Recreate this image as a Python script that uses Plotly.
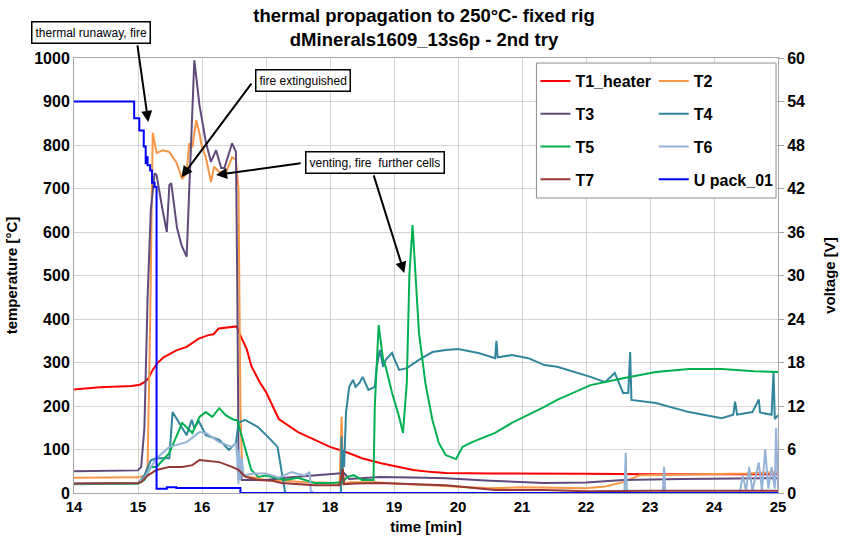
import plotly.graph_objects as go

# ---------------- data ----------------
t1_t = [14.0, 14.4, 14.9, 15.03, 15.1, 15.16, 15.23, 15.3, 15.4, 15.5, 15.6, 15.76, 15.85, 15.95, 16.1, 16.18,
        16.26, 16.4, 16.54, 16.6, 16.7, 16.77, 16.9, 17.0, 17.2, 17.5, 17.76, 18.0, 18.27, 18.5, 18.78, 19.0,
        19.3, 19.6, 19.81, 20.5, 21.4, 22.0, 23.0, 24.0, 25.0]
t1_v = [238, 243, 246, 249, 255, 263, 283, 298, 312, 320, 328, 336, 345, 355, 363, 365,
        378, 380, 383, 362, 330, 292, 255, 232, 170, 140, 122, 106, 93, 80, 69, 62,
        53, 48, 46, 45, 45, 44, 43, 43, 43]

t2_t = [14.0, 15.0, 15.1, 15.15, 15.19, 15.23, 15.29, 15.39, 15.49, 15.6, 15.69, 15.76, 15.8, 15.85, 15.91,
        15.96, 16.0, 16.06, 16.14, 16.19, 16.27, 16.37, 16.47, 16.53, 16.57, 16.6, 16.63, 16.8, 17.0, 17.3,
        17.6, 17.9, 18.15, 18.18, 18.21, 18.3, 18.7, 19.0, 19.5, 20.0, 20.5, 21.0, 21.5, 22.0, 22.3, 22.58,
        22.84, 23.5, 24.0, 24.5, 25.0]
t2_v = [35, 36, 40, 60, 400, 828, 782, 788, 784, 760, 722, 735, 804, 795, 857,
        827, 795, 772, 715, 750, 738, 735, 772, 766, 700, 200, 40, 35, 30, 28,
        25, 24, 22, 175, 20, 25, 25, 22, 18, 14, 11, 13, 12, 11, 15, 25,
        41, 42, 44, 45, 48]

t3_t = [14.0, 15.0, 15.05, 15.1, 15.15, 15.2, 15.26, 15.29, 15.39, 15.45, 15.49, 15.52, 15.61, 15.68, 15.76,
        15.88, 15.96, 16.06, 16.14, 16.22, 16.3, 16.35, 16.47, 16.53, 16.55, 16.57, 16.62, 16.77, 17.0, 17.3,
        17.76, 18.0, 18.22, 18.3, 18.78, 19.5, 19.81, 20.5, 21.35, 22.0, 22.58, 23.5, 25.0]
t3_v = [50, 52, 60, 150, 450, 650, 735, 731, 646, 600, 708, 712, 609, 570, 543,
        995, 892, 807, 761, 788, 747, 747, 804, 784, 500, 100, 30, 30, 30, 35,
        41, 44, 46, 32, 37, 35, 34, 28, 23, 24, 30, 32, 34]

t4_t = [14.0, 15.0, 15.1, 15.2, 15.29, 15.49, 15.54, 15.76, 15.84, 15.88, 15.95, 16.06, 16.27, 16.42, 16.53,
        16.57, 16.67, 16.87, 17.03, 17.18, 17.24, 17.3, 18.17, 18.18, 18.19, 18.2, 18.22, 18.25, 18.3, 18.36,
        18.4, 18.46, 18.51, 18.6, 18.7, 18.73, 18.78, 18.83, 18.87, 18.97, 19.0, 19.08, 19.2, 19.39, 19.6,
        19.81, 20.0, 20.32, 20.58, 20.6, 20.62, 20.84, 21.1, 21.35, 21.55, 22.07, 22.3, 22.45, 22.58, 22.66,
        22.69, 22.71, 23.09, 23.61, 24.12, 24.3, 24.33, 24.36, 24.6, 24.7, 24.72, 24.9, 24.93, 24.95, 25.0]
t4_v = [20, 22, 40, 75, 80, 80, 186, 133, 168, 150, 165, 133, 122, 99, 115,
        161, 168, 152, 129, 106, 53, 0, 0, 130, 20, 100, 60, 184, 244, 260,
        244, 253, 267, 237, 244, 290, 329, 290, 306, 322, 310, 283, 287, 306, 324,
        329, 331, 322, 310, 350, 312, 317, 310, 294, 290, 267, 255, 276, 230, 230,
        324, 214, 207, 186, 172, 180, 210, 180, 186, 215, 185, 180, 280, 170, 179]

t5_t = [14.0, 15.0, 15.1, 15.2, 15.29, 15.49, 15.69, 15.85, 15.96, 16.06, 16.16, 16.27, 16.37, 16.5, 16.55,
        16.68, 16.77, 16.88, 17.0, 17.3, 17.5, 17.76, 18.0, 18.2, 18.27, 18.37, 18.5, 18.68, 18.7, 18.76,
        18.83, 18.87, 18.97, 19.08, 19.14, 19.2, 19.24, 19.29, 19.35, 19.39, 19.49, 19.6, 19.7, 19.81, 19.97,
        20.07, 20.22, 20.58, 20.84, 21.1, 21.35, 21.55, 22.07, 22.58, 23.09, 23.61, 24.12, 24.63, 25.0]
t5_v = [21, 22, 30, 60, 60, 92, 161, 138, 175, 186, 175, 195, 179, 168, 168,
        99, 53, 37, 40, 30, 35, 23, 23, 25, 37, 41, 30, 30, 200, 386,
        306, 290, 230, 175, 138, 253, 500, 616, 450, 368, 253, 168, 115, 87, 78,
        106, 117, 138, 161, 179, 198, 214, 248, 264, 278, 285, 285, 280, 278]

t6_t = [14.0, 15.0, 15.1, 15.2, 15.29, 15.49, 15.76, 15.96, 16.06, 16.27, 16.47, 16.53, 16.55, 16.57, 16.58,
        16.6, 16.62, 16.65, 16.8, 17.0, 17.2, 17.4, 17.6, 17.68, 17.7, 17.75, 22.6, 22.62, 22.64, 23.2,
        23.22, 23.24, 24.4, 24.45, 24.5, 24.55, 24.6, 24.7, 24.75, 24.8, 24.85, 24.9, 24.95, 24.97, 25.0]
t6_v = [22, 23, 35, 60, 80, 106, 117, 140, 138, 117, 106, 115, 80, 20, 100,
        30, 80, 40, 45, 45, 35, 48, 40, 48, 5, 0, 0, 92, 0, 0,
        60, 0, 0, 40, 5, 60, 5, 70, 5, 100, 10, 60, 10, 150, 10]

t7_t = [14.0, 15.0, 15.05, 15.15, 15.29, 15.49, 15.69, 15.85, 15.96, 16.27, 16.47, 16.57, 16.68, 16.88, 17.1,
        17.24, 17.76, 18.15, 18.2, 18.22, 18.4, 18.78, 19.81, 20.58, 21.35, 22.0, 23.0, 24.0, 25.0]
t7_v = [22, 23, 25, 40, 53, 60, 60, 64, 76, 71, 60, 53, 37, 30, 28,
        23, 18, 18, 55, 20, 22, 23, 18, 7, 7, 4, 5, 5, 5]

u_t = [14.0, 14.94, 15.02, 15.09, 15.12, 15.14, 15.15, 15.19, 15.22, 15.26, 15.29, 15.45, 15.6, 16.0, 16.6, 25.0]
u_v = [54, 51.7, 50, 47.8, 45.5, 46.3, 45.2, 44.5, 42.8, 42.2, 0.6, 0.8, 0.7, 0.7, 0, 0]

series = [
    ("T1_heater", t1_t, t1_v, "#FF0000", "legend"),
    ("T2", t2_t, t2_v, "#F79646", "legend2"),
    ("T3", t3_t, t3_v, "#604A7B", "legend"),
    ("T4", t4_t, t4_v, "#31859C", "legend2"),
    ("T5", t5_t, t5_v, "#00B050", "legend"),
    ("T6", t6_t, t6_v, "#95B3D7", "legend2"),
    ("T7", t7_t, t7_v, "#953735", "legend"),
]

FONT = "Liberation Sans, Arial, sans-serif"

fig = go.Figure()
for name, tx, vy, col, leg in series:
    fig.add_trace(go.Scatter(x=tx, y=vy, name=name, mode="lines",
                             line=dict(color=col, width=2), legend=leg,
                             legendgroup=name, yaxis="y"))
fig.add_trace(go.Scatter(x=u_t, y=u_v, name="U pack_01", mode="lines",
                         line=dict(color="#0000FF", width=2, shape="hv"),
                         legend="legend2", legendgroup="U", yaxis="y2"))

W, H = 848, 545
L, R, T, B = 73, 61, 58, 52
pw, ph = W - L - R, H - T - B


def px(xp):
    return (xp - L) / pw


def py(yp):
    return (H - B - yp) / ph


legfont = dict(family=FONT, size=16, color="black", weight="bold")

fig.update_layout(
    width=W, height=H,
    margin=dict(l=L, r=R, t=T, b=B),
    paper_bgcolor="white", plot_bgcolor="white",
    font=dict(family=FONT, color="black"),
    title=dict(text="thermal propagation to 250°C- fixed rig<br>dMinerals1609_13s6p - 2nd try",
               x=0.5, xanchor="center", y=1 - 22 / H, yanchor="top",
               font=dict(family=FONT, size=18.5, color="black", weight="bold")),
    xaxis=dict(range=[14, 25], dtick=1, tick0=14, showgrid=True, gridcolor="#D4D4D4", gridwidth=1,
               showline=True, linecolor="#A6A6A6", mirror=True, zeroline=False,
               tickfont=dict(family=FONT, size=15, color="black", weight="bold"),
               title=dict(text="time [min]", standoff=7,
                          font=dict(family=FONT, size=15, color="black", weight="bold"))),
    yaxis=dict(range=[0, 1000], dtick=100, showgrid=True, gridcolor="#D4D4D4", gridwidth=1,
               showline=True, linecolor="#A6A6A6", zeroline=False,
               tickfont=dict(family=FONT, size=16, color="black", weight="bold"),
               title=dict(text="temperature [°C]", standoff=12,
                          font=dict(family=FONT, size=15, color="black", weight="bold"))),
    yaxis2=dict(range=[0, 60], dtick=6, overlaying="y", side="right", showgrid=False,
                showline=True, linecolor="#A6A6A6", zeroline=False,
                ticks="outside", ticklen=5, tickcolor="#A6A6A6",
                tickfont=dict(family=FONT, size=16, color="black", weight="bold"),
                title=dict(text="voltage [V]", standoff=20,
                           font=dict(family=FONT, size=15, color="black", weight="bold"))),
    legend=dict(x=px(541), y=py(64), xanchor="left", yanchor="top", font=legfont,
                bgcolor="rgba(0,0,0,0)", borderwidth=0, tracegroupgap=9),
    legend2=dict(x=px(661), y=py(64), xanchor="left", yanchor="top", font=legfont,
                 bgcolor="rgba(0,0,0,0)", borderwidth=0, tracegroupgap=9),
    showlegend=True,
)

fig.add_shape(type="rect", xref="paper", yref="paper", x0=px(542), x1=px(785), y0=py(198), y1=py(63),
              line=dict(color="#8C8C8C", width=1), fillcolor="white", layer="above")

boxfont = dict(family=FONT, size=12, color="black")
boxes = [
    ("thermal runaway, fire", 90, 32),
    ("fire extinguished", 305, 81),
    ("venting, fire  further cells", 378.5, 162.5),
]
for txt, cx, cy in boxes:
    fig.add_annotation(text=txt, xref="paper", yref="paper", x=px(cx), y=py(cy),
                       xanchor="center", yanchor="middle", showarrow=False, font=boxfont,
                       bordercolor="black", borderwidth=1.5, borderpad=3, bgcolor="white")

# arrows: tip in data coordinates (time, temperature), tail offset in pixels
arrows = [
    (15.16, 853, -11, -78),
    (15.68, 726, 71, -95),
    (16.22, 731, 86, -12),
    (19.16, 506, -31, -99),
]
for xt, yt, ax, ay in arrows:
    fig.add_annotation(text="", x=xt, y=yt, xref="x", yref="y", showarrow=True,
                       ax=ax, ay=ay, arrowhead=2, arrowsize=1.1, arrowwidth=2, arrowcolor="black")

fig.write_html("out.html")
